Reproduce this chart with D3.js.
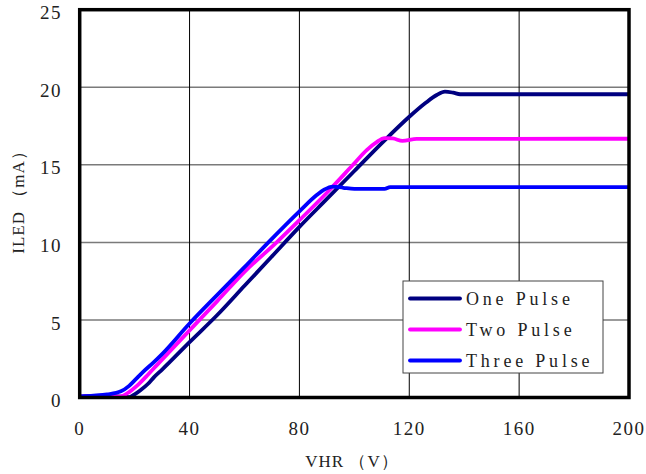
<!DOCTYPE html>
<html>
<head>
<meta charset="utf-8">
<script src="https://cdn.jsdelivr.net/npm/d3@7"></script>
<style>
  body { margin: 0; background: #fff; }
  svg text { font-family: "Liberation Serif", "DejaVu Serif", serif; fill: #222; }
</style>
</head>
<body>
<div id="chart"></div>
<script>
// x ticks / y ticks
const xTicks = [0, 40, 80, 120, 160, 200]
const yTicks = [0, 5, 10, 15, 20, 25]

// [VHR (V), ILED (mA)]
const onePulse = [[0, 0.05], [5, 0.1], [10, 0.12], [15, 0.05], [18, 0.03], [20, 0.2], [22, 0.45],
  [25, 0.9], [27, 1.3], [30, 1.8], [40, 3.57], [50, 5.3], [60, 7.2], [70, 9.1], [80, 11.0],
  [90, 12.8], [100, 14.6], [110, 16.4], [120, 18.1], [126, 19.0], [130, 19.5], [133, 19.72],
  [136, 19.65], [138.5, 19.55], [200, 19.55]]
const twoPulse = [[0, 0.05], [8, 0.1], [11, 0.05], [14, 0.05], [16, 0.13], [18, 0.35], [21, 0.78],
  [25, 1.5], [28, 2.07], [40, 4.33], [50, 6.2], [60, 8.1], [71.7, 10], [80, 11.43], [90, 13.2],
  [99.5, 15], [104.5, 15.95], [108, 16.45], [111, 16.72], [114, 16.7], [117.5, 16.54],
  [122.7, 16.67], [200, 16.68]]
const threePulse = [[0, 0.07], [5, 0.12], [10, 0.2], [15, 0.4], [18, 0.75], [20, 1.1], [23, 1.64],
  [27, 2.28], [30, 2.8], [40, 4.77], [50, 6.6], [60, 8.4], [68.7, 10], [80, 12.0], [86.3, 13.05],
  [89, 13.4], [92.2, 13.6], [96, 13.52], [100, 13.45], [111, 13.45], [113, 13.56], [200, 13.56]]

const seriesNames = ["One Pulse", "Two Pulse", "Three Pulse"]
const seriesColors = ["#000080", "#ff00ff", "#0000ff"]
const seriesData = [onePulse, twoPulse, threePulse]

const width = 646, height = 474
const pLeft = 79.7, pRight = 629, pTop = 9.7, pBottom = 397.5

const svg = d3.select("#chart").append("svg")
  .attr("width", width)
  .attr("height", height)

const x = d3.scaleLinear().domain([0, 200]).range([pLeft, pRight])
const y = d3.scaleLinear().domain([0, 25]).range([pBottom, pTop])

// grid
svg.append("g").selectAll("line")
  .data(yTicks.slice(1, -1))
  .enter().append("line")
  .attr("x1", pLeft).attr("x2", pRight)
  .attr("y1", d => y(d)).attr("y2", d => y(d))
  .attr("stroke", "#7a7a7a").attr("stroke-width", 1.5)

svg.append("g").selectAll("line")
  .data(xTicks.slice(1, -1))
  .enter().append("line")
  .attr("x1", d => x(d)).attr("x2", d => x(d))
  .attr("y1", pTop).attr("y2", pBottom)
  .attr("stroke", "#000").attr("stroke-width", 1)

// curves
const line = d3.line()
  .x(d => x(d[0]))
  .y(d => y(d[1]))
  .curve(d3.curveMonotoneX)

svg.append("g").selectAll("path")
  .data(seriesData)
  .enter().append("path")
  .attr("d", line)
  .attr("fill", "none")
  .attr("stroke", (d, i) => seriesColors[i])
  .attr("stroke-width", 3.8)
  .attr("stroke-linejoin", "round")

// frame
svg.append("rect")
  .attr("x", pLeft).attr("y", pTop)
  .attr("width", pRight - pLeft).attr("height", pBottom - pTop)
  .attr("fill", "none").attr("stroke", "#000").attr("stroke-width", 3.5)

// tick labels
svg.append("g").selectAll("text")
  .data(yTicks)
  .enter().append("text")
  .attr("x", 62).attr("y", d => y(d) + 3)
  .attr("dy", "0.35em")
  .attr("text-anchor", "end")
  .style("font-size", "19px")
  .style("letter-spacing", "1.5px")
  .text(d => d)

svg.append("g").selectAll("text")
  .data(xTicks)
  .enter().append("text")
  .attr("x", d => x(d)).attr("y", 435)
  .attr("text-anchor", "middle")
  .style("font-size", "19px")
  .style("letter-spacing", "1.5px")
  .text(d => d)

// axis titles
svg.append("text")
  .attr("x", 352).attr("y", 467)
  .attr("text-anchor", "middle")
  .style("font-size", "17px")
  .style("letter-spacing", "1px")
  .text("VHR （V）")

svg.append("text")
  .attr("transform", "translate(24,198) rotate(-90)")
  .attr("text-anchor", "middle")
  .style("font-size", "17px")
  .style("letter-spacing", "1px")
  .text("ILED （mA）")

// legend
const lg = svg.append("g").attr("transform", "translate(403,281)")
lg.append("rect")
  .attr("width", 200).attr("height", 92)
  .attr("fill", "#fff").attr("stroke", "#444").attr("stroke-width", 1)

const item = lg.selectAll("g.item")
  .data(seriesNames)
  .enter().append("g")
  .attr("class", "item")
  .attr("transform", (d, i) => `translate(0,${17.5 + i * 31})`)

item.append("line")
  .attr("x1", 7).attr("x2", 57)
  .attr("stroke", (d, i) => seriesColors[i])
  .attr("stroke-width", 3.8)
  .attr("stroke-linecap", "round")

item.append("text")
  .attr("x", 63).attr("y", 6)
  .style("font-size", "18px")
  .style("letter-spacing", "3.8px")
  .text(d => d)
</script>
</body>
</html>
